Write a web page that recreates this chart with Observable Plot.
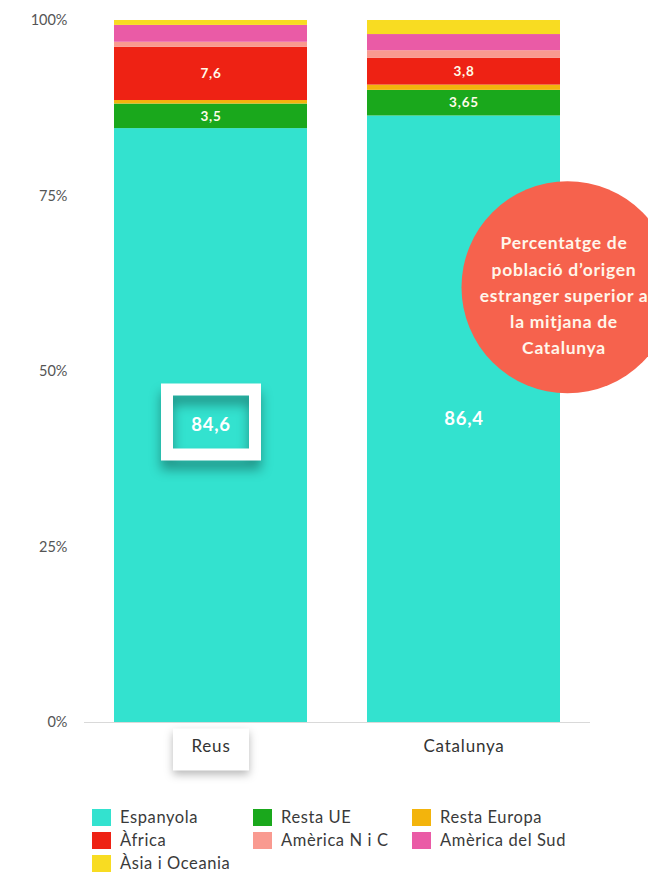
<!DOCTYPE html>
<html>
<head>
<meta charset="utf-8">
<script src="https://cdn.jsdelivr.net/npm/d3@7"></script>
<script src="https://cdn.jsdelivr.net/npm/@observablehq/plot@0.6"></script>
<style>
  html, body { margin: 0; padding: 0; background: #fff; }
  body { width: 648px; font-family: Lato, "Open Sans", sans-serif; }
  .shadowed { filter: drop-shadow(0px 9px 6px rgba(0,0,0,0.35)); }
  .tickbox { filter: drop-shadow(0px 4px 4px rgba(0,0,0,0.28)); }
  .spaced text { letter-spacing: 0.8px; }
  .spaced-small text { letter-spacing: 0.7px; }
  .legend { display: grid; grid-template-columns: 161px 159px 200px; margin-left: 92px; margin-top: 18px; row-gap: 5px; }
  .legend .item { display: flex; align-items: center; height: 18px; font-size: 16.5px; letter-spacing: 0.6px; color: #3a3a3a; white-space: nowrap; }
  .legend .sw { width: 19px; height: 17px; margin-right: 9px; flex: none; }
</style>
</head>
<body>
<div id="chart"></div>
<div class="legend" id="legend"></div>
<script>
const categories = ["Reus", "Catalunya"];
const series = ["Espanyola", "Resta UE", "Resta Europa", "Àfrica", "Amèrica N i C", "Amèrica del Sud", "Àsia i Oceania"];
const reusValues = [84.6, 3.5, 0.5, 7.6, 0.7, 2.4, 0.7];
const catalunyaValues = [86.4, 3.65, 0.75, 3.8, 1.1, 2.3, 2.0];
const colors = ["#33e2cf", "#1aa81c", "#f3b40c", "#ee2214", "#f99a90", "#ea5ba6", "#f8dc22"];
const labelledSmall = ["Resta UE", "Àfrica"];
const labelledBig = ["Espanyola"];
const yTicks = [0, 25, 50, 75, 100];
const calloutText = "Percentatge de\npoblació d’origen\nestranger superior a\nla mitjana de\nCatalunya";
const highlighted = "Reus";

const valuesByCategory = {Reus: reusValues, Catalunya: catalunyaValues};
const rows = [];
for (const c of categories) {
  series.forEach((s, i) => rows.push({category: c, origin: s, value: valuesByCategory[c][i]}));
}
const fmt = v => String(v).replace(".", ",");

const rectSymbol = (w, h) => ({
  draw(ctx) {
    ctx.moveTo(-w / 2, -h / 2);
    ctx.lineTo(w / 2, -h / 2);
    ctx.lineTo(w / 2, h / 2);
    ctx.lineTo(-w / 2, h / 2);
    ctx.closePath();
  }
});

const hlRow = rows.find(d => d.category === highlighted && d.origin === series[0]);

const chart = Plot.plot({
  width: 648,
  height: 790,
  marginTop: 20,
  marginBottom: 68,
  marginLeft: 84,
  marginRight: 58,
  style: {fontFamily: "Lato, 'Open Sans', sans-serif", fontSize: "14px", background: "#fff"},
  x: {domain: categories, paddingInner: 0.237, paddingOuter: 0.118, label: null},
  y: {domain: [0, 100], label: null},
  color: {domain: series, range: colors},
  marks: [
    Plot.barY(rows, {x: "category", y: "value", fill: "origin", z: "origin"}),
    Plot.ruleY([0], {stroke: "#d9d9d9"}),
    Plot.text(rows, Plot.stackY({
      x: "category", y: "value", z: "origin",
      text: d => labelledSmall.includes(d.origin) ? fmt(d.value) : "",
      fill: "#fffbe8", fontWeight: "bold", fontSize: 13.5, className: "spaced"
    })),
    Plot.dot([hlRow], {
      x: "category", y: d => d.value / 2, dy: -3.5,
      symbol: rectSymbol(88, 65), r: 10,
      stroke: "white", strokeWidth: 12, fill: "none",
      className: "shadowed"
    }),
    Plot.text(rows, Plot.stackY({
      x: "category", y: "value", z: "origin",
      text: d => labelledBig.includes(d.origin) ? fmt(d.value) : "",
      fill: "white", fontWeight: "bold", fontSize: 18.5, className: "spaced"
    })),
    Plot.dot([{category: "Catalunya", y: 62}], {
      x: "category", y: "y", dx: 103.5, r: 106, fill: "#f6624d", stroke: null
    }),
    Plot.text([{category: "Catalunya", y: 62, t: calloutText}], {
      x: "category", y: "y", dx: 100, dy: 6, text: "t",
      fill: "#fff6ea", fontWeight: "bold", fontSize: 17.5, lineHeight: 1.49,
      className: "spaced-small"
    }),
    Plot.dot([{category: highlighted, y: 0}], {
      x: "category", y: "y", dy: 27,
      symbol: rectSymbol(76, 42), r: 10,
      fill: "white", stroke: null, className: "tickbox"
    }),
    Plot.axisY({ticks: yTicks, tickFormat: d => d + "%", tickSize: 0, tickPadding: 17, fill: "#555", fontSize: 14.5, label: null}),
    Plot.axisX({tickSize: 0, tickPadding: 17, fill: "#333", fontSize: 17, label: null, className: "spaced"})
  ]
});
document.getElementById("chart").appendChild(chart);

const legend = d3.select("#legend");
series.forEach((s, i) => {
  const item = legend.append("div").attr("class", "item");
  item.append("div").attr("class", "sw").style("background", colors[i]);
  item.append("span").text(s);
});
</script>
</body>
</html>
